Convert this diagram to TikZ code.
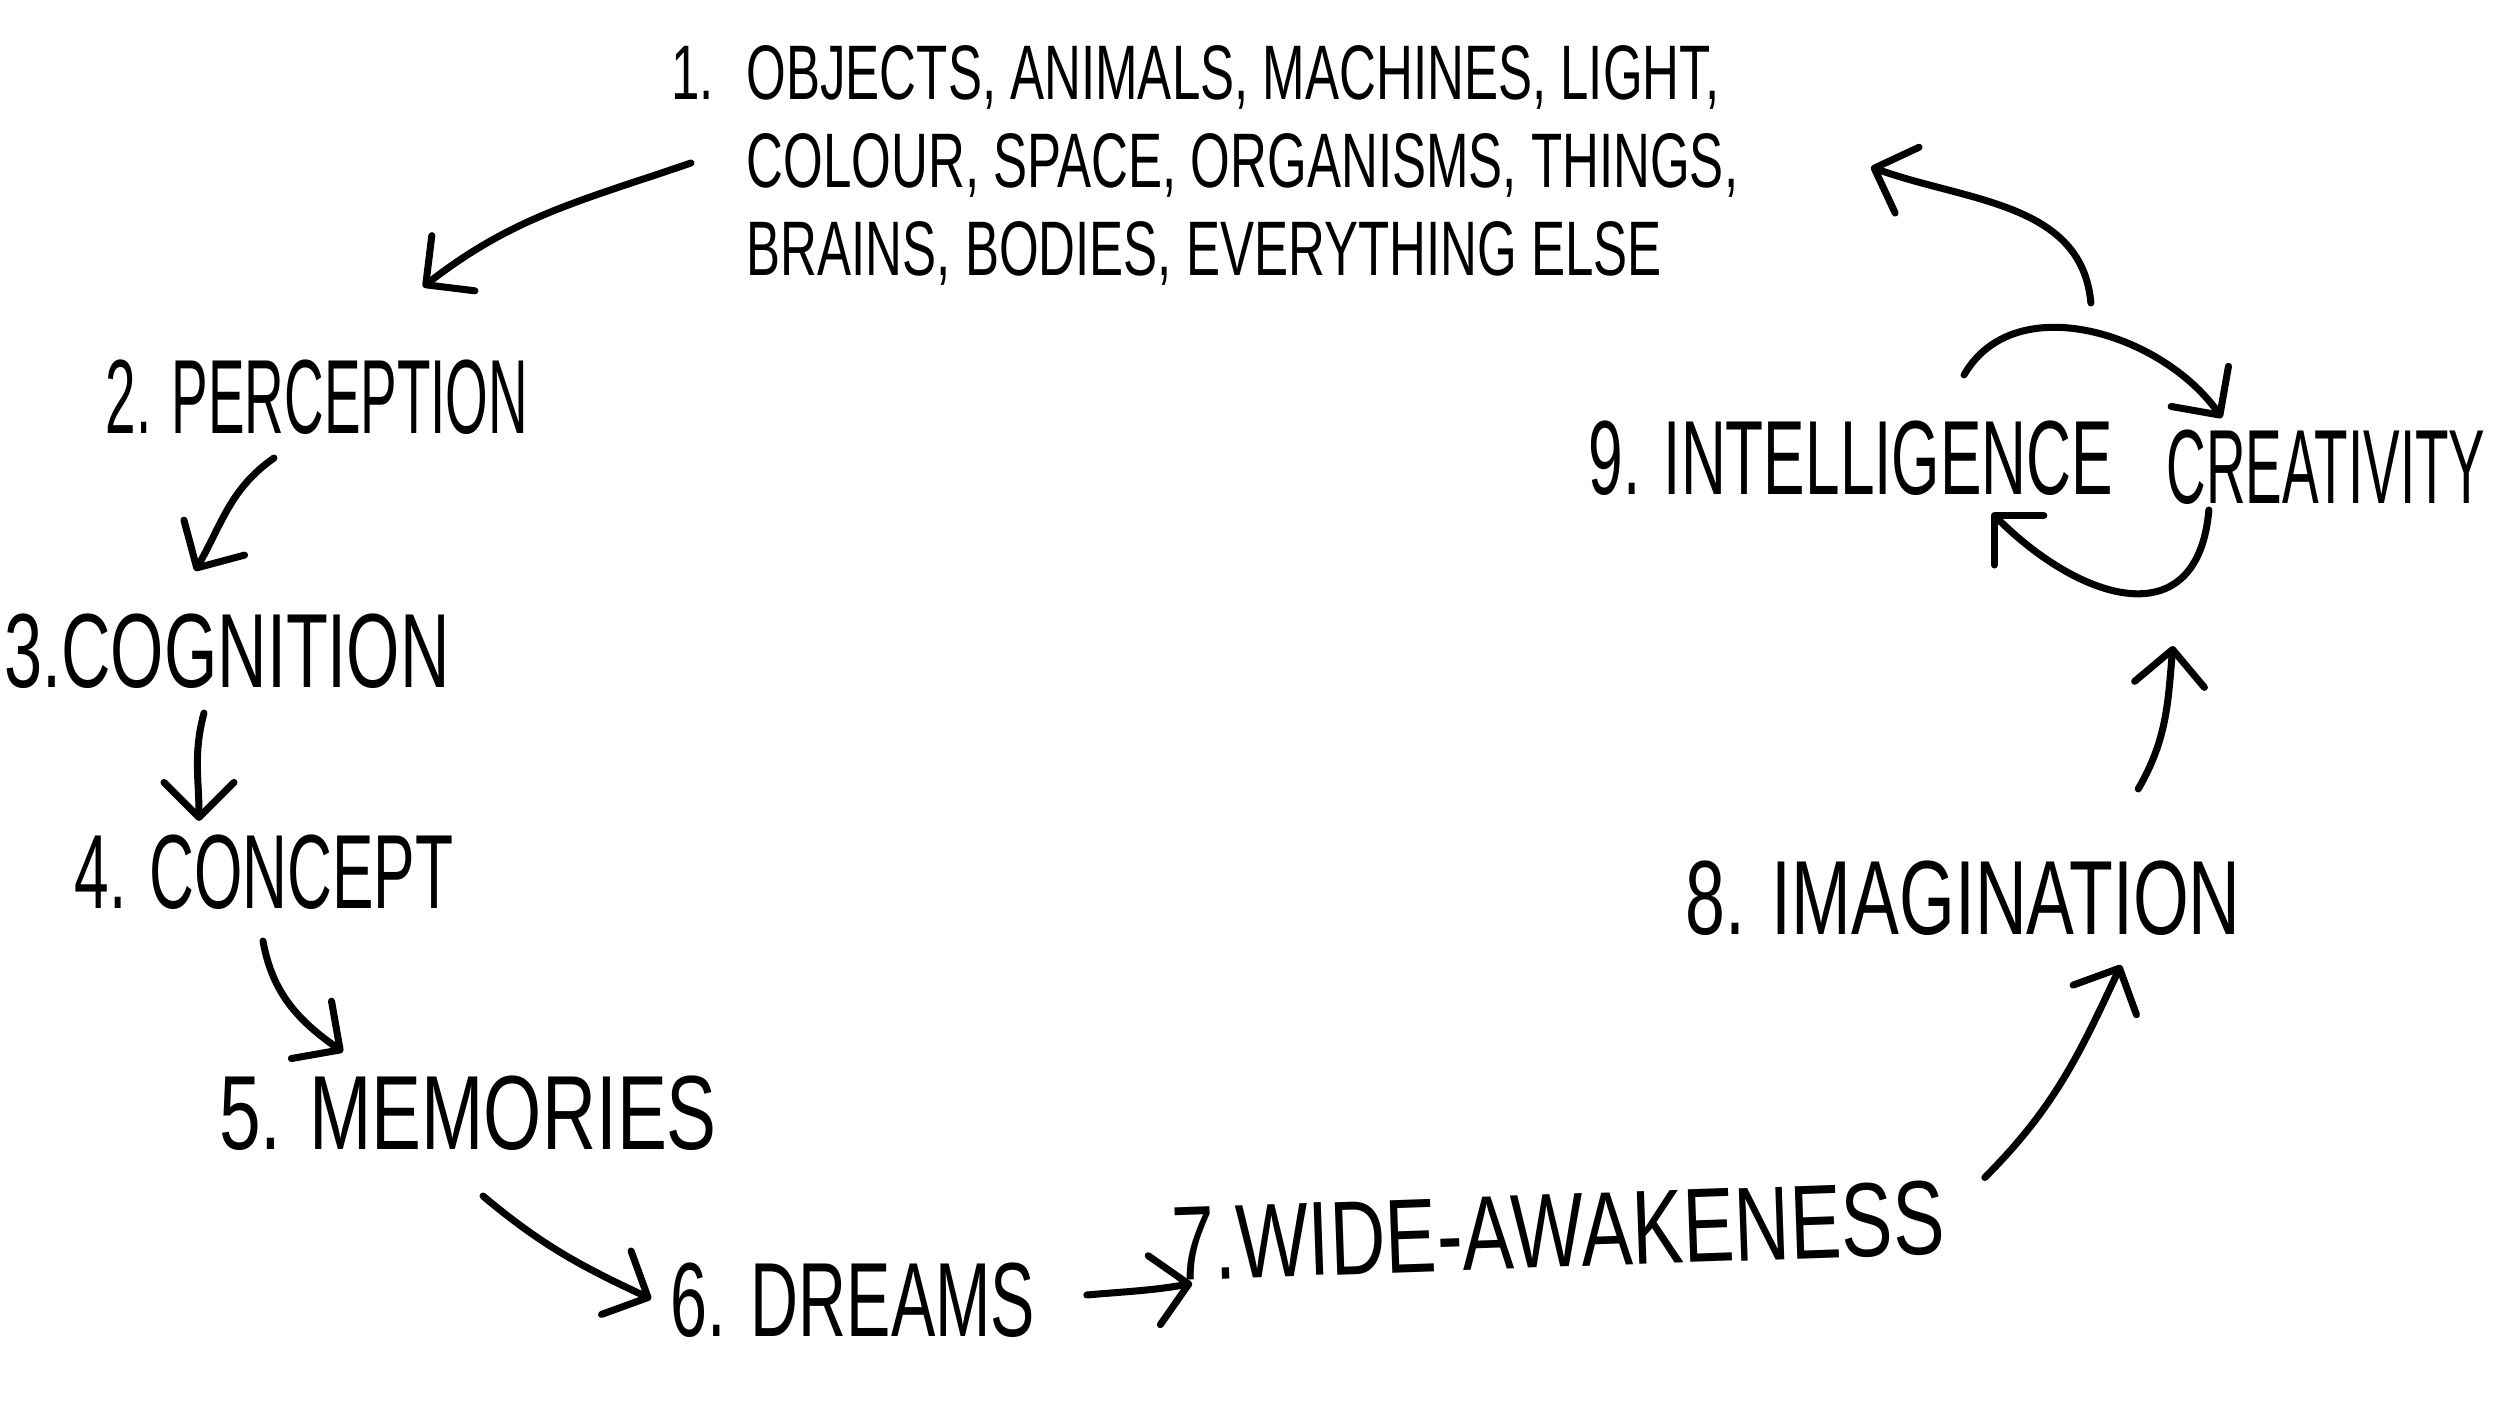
\documentclass[tikz,border=0pt]{standalone}
\usepackage{fontspec}
\setmainfont{Liberation Sans}
\usepackage{graphicx}
\usetikzlibrary{arrows.meta}

\begin{document}
\begin{tikzpicture}

\tikzset{stage/.style={font=\fontsize{30}{34}\selectfont,inner sep=0pt},
flow/.style={line width=2pt,line cap=round,-{Straight Barb[round,length=3.5mm,width=7mm]}}}

% page
\useasboundingbox (0,0) rectangle (25,14.24);

% the things out there
\node[anchor=west,inner sep=0pt,font=\fontsize{22}{25}\selectfont] (objs) at (7.46,12.54) {\scalebox{0.66}[1]{\begin{tabular}{@{}l@{}}\llap{1.\hspace{0.5cm}}OBJECTS, ANIMALS, MACHINES, LIGHT,\\COLOUR, SPACE, ORGANISMS, THINGS,\\BRAINS, BODIES, EVERYTHING ELSE\end{tabular}}};

% stages
\node[stage] (perc) at (3.17,10.27) {\scalebox{0.52}[1]{2. PERCEPTION}};
\node[stage] (cogn) at (2.27,7.73) {\scalebox{0.65}[1]{3.COGNITION}};
\node[stage] (conc) at (2.64,5.52) {\scalebox{0.59}[1]{4. CONCEPT}};
\node[stage] (memo) at (4.68,3.11) {\scalebox{0.71}[1]{5. MEMORIES}};
\node[stage] (drea) at (8.53,1.24) {\scalebox{0.63}[1]{6. DREAMS}};
\node[stage,rotate=2] (wide) at (15.58,1.93) {\scalebox{0.73}[1]{7.WIDE-AWAKENESS}};
\node[stage] (imag) at (19.63,5.26) {\scalebox{0.68}[1]{8. IMAGINATION}};
\node[stage] (intel) at (18.51,9.66) {\scalebox{0.59}[1]{9. INTELLIGENCE}};
\node[stage] (crea) at (23.26,9.57) {\scalebox{0.52}[1]{CREATIVITY}};

% round the cycle
\draw[flow] ([shift={(-0.55,0.07)}]objs.west) to[out=199,in=38] ([shift={(1.06,0.72)}]perc.north);
\draw[flow] ([shift={(-0.43,-0.23)}]perc.south) to[out=215,in=60] ([shift={(-0.32,0.42)}]cogn.north);
\draw[flow] ([shift={(-0.23,-0.24)}]cogn.south) to[out=255,in=90] ([shift={(-0.65,0.13)}]conc.north);
\draw[flow] ([shift={(-0.01,-0.31)}]conc.south) to[out=280,in=145] ([shift={(-1.25,0.23)}]memo.north);
\draw[flow] ([shift={(0.15,-0.45)}]memo.south) to[out=-40,in=155] ([shift={(-0.19,0.01)}]drea.west);
\draw[flow] ([shift={(0.51,0.05)}]drea.east) to[out=5,in=190] ([shift={(0.21,-0.39)}]wide.west);
\draw[flow] ([shift={(0.40,0.40)}]wide.east) to[out=45,in=245] ([shift={(1.58,-0.29)}]imag.south);
\draw[flow] ([shift={(-1.03,0.71)}]imag.north east) to[out=60,in=265] ([shift={(0.07,-1.41)}]crea.south west);

% 9 loop
\draw[flow] ([shift={(1.13,0.45)}]intel.north) to[out=60,in=125] ([shift={(0.56,0.11)}]crea.north west);
\draw[flow] ([shift={(0.43,-0.05)}]crea.south west) to[out=265,in=315,looseness=1.5] ([shift={(-1.22,-0.17)}]intel.south east);

% back to 1
\draw[flow] ([shift={(-0.23,1.17)}]intel.north east) to[out=95,in=-20] ([shift={(1.32,0.03)}]objs.east);

\end{tikzpicture}
\end{document}
